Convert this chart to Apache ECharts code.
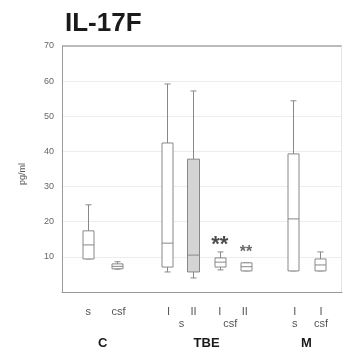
<!DOCTYPE html>
<html><head><meta charset="utf-8">
<script src="https://cdn.jsdelivr.net/npm/echarts@6/dist/echarts.min.js"></script>
<style>html,body{margin:0;padding:0;background:#fff}#c{width:345px;height:351px}</style>
</head><body><div id="c"></div>
<script>
// group positions along the x axis (axis units) and box statistics [min, Q1, median, Q3, max]
var boxNames = ['C s', 'C csf', 'TBE s I', 'TBE s II', 'TBE csf I', 'TBE csf II', 'M s', 'M csf'];
var xPos     = [1, 2.1, 4, 5, 6, 7, 8.8, 9.8];
var minVals  = [9.4, 6.5, 5.7, 4.0, 6.3, 6.0, 6.0, 6.0];
var q1Vals   = [9.4, 6.6, 7.1, 5.7, 7.1, 6.0, 6.0, 6.0];
var medVals  = [13.4, 7.3, 13.9, 10.5, 8.5, 7.2, 20.8, 7.7];
var q3Vals   = [17.4, 8.0, 42.4, 37.8, 9.7, 8.3, 39.3, 9.4];
var maxVals  = [24.8, 8.6, 59.2, 57.2, 11.4, 8.3, 54.4, 11.4];
var filled   = [0, 0, 0, 1, 0, 0, 0, 0];
var yTicks   = [10, 20, 30, 40, 50, 60, 70];
// significance marks
var starX    = [6, 7];
var starY    = [13.4, 11.2];
var starText = ['**', '**'];
// x axis label rows
var row1Labels = ['s', 'csf', 'I', 'II', 'I', 'II', 'I', 'I'];
var row1X      = [1, 2.15, 4.05, 5.0, 6.0, 6.95, 8.85, 9.85];
var row2Labels = ['s', 'csf', 's', 'csf'];
var row2X      = [4.55, 6.4, 8.85, 9.85];
var groupLabels = ['C', 'TBE', 'M'];
var groupX      = [1.55, 5.5, 9.3];

var chart = echarts.init(document.getElementById('c'));
var boxData = xPos.map(function (x, i) {
  return [x, minVals[i], q1Vals[i], medVals[i], q3Vals[i], maxVals[i], filled[i]];
});

function renderBox(params, api) {
  var x = api.value(0);
  var pMin = api.coord([x, api.value(1)]);
  var pQ1 = api.coord([x, api.value(2)]);
  var pMed = api.coord([x, api.value(3)]);
  var pQ3 = api.coord([x, api.value(4)]);
  var pMax = api.coord([x, api.value(5)]);
  var fill = api.value(6);
  var w = fill ? 12 : 11;
  var cx = Math.round(pMed[0]) + 0.5;
  var cap = 3;
  var stroke = '#888888';
  var children = [];
  children.push({type: 'line', shape: {x1: cx, y1: pMax[1], x2: cx, y2: pQ3[1]}, style: {stroke: stroke, lineWidth: 1}});
  children.push({type: 'line', shape: {x1: cx - cap, y1: pMax[1], x2: cx + cap, y2: pMax[1]}, style: {stroke: stroke, lineWidth: 1}});
  children.push({type: 'line', shape: {x1: cx, y1: pQ1[1], x2: cx, y2: pMin[1]}, style: {stroke: stroke, lineWidth: 1}});
  children.push({type: 'line', shape: {x1: cx - cap, y1: pMin[1], x2: cx + cap, y2: pMin[1]}, style: {stroke: stroke, lineWidth: 1}});
  children.push({type: 'rect', shape: {x: cx - w / 2, y: pQ3[1], width: w, height: pQ1[1] - pQ3[1]},
    style: {fill: fill ? '#d4d4d4' : '#ffffff', stroke: stroke, lineWidth: 1}});
  children.push({type: 'line', shape: {x1: cx - w / 2, y1: pMed[1], x2: cx + w / 2, y2: pMed[1]}, style: {stroke: stroke, lineWidth: 1}});
  return {type: 'group', children: children};
}

function starSeries(i, size, color) {
  return {type: 'scatter', symbolSize: 0, data: [[starX[i], starY[i]]], z: 4,
    label: {show: true, position: 'inside', formatter: starText[i],
      fontFamily: 'Liberation Sans', fontWeight: 'bold', fontSize: size, color: color}};
}

chart.setOption({
  animation: false,
  title: {text: 'IL-17F', left: 60, top: 6,
    textStyle: {fontFamily: 'Liberation Sans', fontWeight: 'bold', fontSize: 26, color: '#1a1a1a'}},
  grid: {left: 62, right: 3, top: 46, bottom: 59},
  xAxis: {type: 'value', min: 0, max: 10.65,
    axisLine: {show: true, lineStyle: {color: '#9a9a9a'}}, axisTick: {show: false},
    axisLabel: {show: false}, splitLine: {show: false}},
  yAxis: {type: 'value', min: 0, max: 70, interval: 10,
    name: 'pg/ml', nameLocation: 'middle', nameGap: 35, nameRotate: 90,
    nameTextStyle: {fontSize: 9, color: '#555', fontFamily: 'Liberation Sans', padding: [0, 0, 0, -10]},
    axisLine: {show: true, lineStyle: {color: '#9a9a9a'}}, axisTick: {show: false},
    axisLabel: {fontSize: 9, color: '#666', fontFamily: 'Liberation Sans', margin: 8,
      formatter: function (v) { return yTicks.indexOf(v) >= 0 ? String(v) : ''; }},
    splitLine: {show: true, lineStyle: {color: '#ececec'}}},
  series: [
    {type: 'custom', renderItem: renderBox, data: boxData, encode: {x: 0, y: [1, 2, 3, 4, 5]}, z: 3},
    starSeries(0, 22, '#1e1e1e'),
    starSeries(1, 16, '#444')
  ]
});

function addLabels() {
  var els = [];
  var yBase = chart.convertToPixel({gridIndex: 0}, [0, 0])[1];
  var yTop = chart.convertToPixel({gridIndex: 0}, [0, 70])[1];
  var xL = chart.convertToPixel({gridIndex: 0}, [0, 0])[0];
  var xR = chart.convertToPixel({gridIndex: 0}, [10.65, 0])[0];
  els.push({type: 'line', shape: {x1: xL, y1: yTop, x2: xR, y2: yTop}, style: {stroke: '#a8a8a8', lineWidth: 1.5}});
  els.push({type: 'line', shape: {x1: xR - 0.5, y1: yTop, x2: xR - 0.5, y2: yBase}, style: {stroke: '#e4e4e4', lineWidth: 1}});
  row1Labels.forEach(function (t, i) {
    var px = chart.convertToPixel({gridIndex: 0}, [row1X[i], 0])[0];
    els.push({type: 'text', x: px, y: yBase + 20, style: {text: t, fontSize: 11, fill: '#555',
      fontFamily: 'Liberation Sans', align: 'center', verticalAlign: 'middle'}});
  });
  row2Labels.forEach(function (t, i) {
    var px = chart.convertToPixel({gridIndex: 0}, [row2X[i], 0])[0];
    els.push({type: 'text', x: px, y: yBase + 32, style: {text: t, fontSize: 11, fill: '#555',
      fontFamily: 'Liberation Sans', align: 'center', verticalAlign: 'middle'}});
  });
  groupLabels.forEach(function (t, i) {
    var px = chart.convertToPixel({gridIndex: 0}, [groupX[i], 0])[0];
    els.push({type: 'text', x: px, y: yBase + 51, style: {text: t, fontSize: 13, fontWeight: 'bold', fill: '#1a1a1a',
      fontFamily: 'Liberation Sans', align: 'center', verticalAlign: 'middle'}});
  });
  chart.setOption({graphic: els});
}
addLabels();
</script>
</body></html>
